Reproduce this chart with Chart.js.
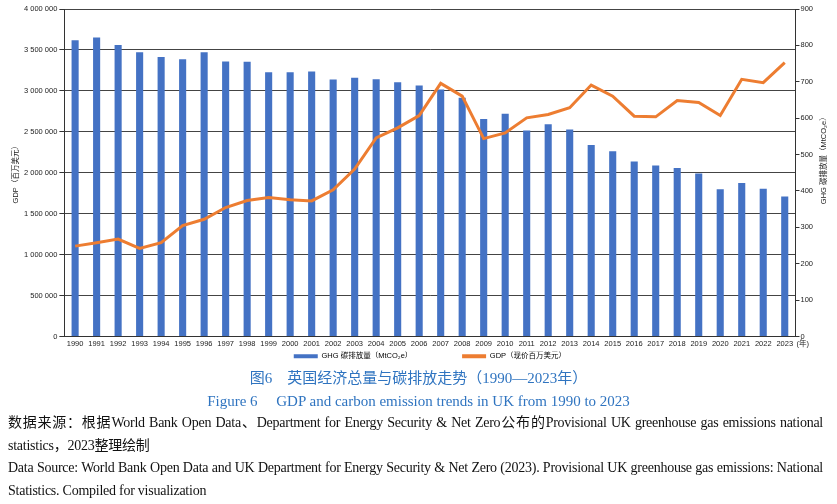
<!DOCTYPE html>
<html>
<head>
<meta charset="utf-8">
<script src="https://cdn.jsdelivr.net/npm/chart.js@4.4.0/dist/chart.umd.min.js"></script>
<style>
  body { margin: 0; background: #fff; width: 837px; height: 504px; overflow: hidden; }
  #wrap { position: relative; width: 837px; height: 370px; }
  .cap { font-family: "Liberation Serif", "Noto Sans CJK SC", serif; color: #2f74c0; text-align: center; font-size: 15px; }
  #cap1 { position: absolute; top: 366px; left: 0; width: 837px; }
  #cap2 { position: absolute; top: 389px; left: 0; width: 837px; }
  .src { position: absolute; left: 8px; width: 815px; font-family: "Liberation Serif", "Noto Sans CJK SC", serif;
         font-size: 14px; line-height: 22.5px; color: #111; text-align: justify; letter-spacing: -0.25px; }
  #src1 { top: 412px; }
  #src2 { top: 457px; }
</style>
</head>
<body>
<div id="wrap"><canvas id="chart"></canvas></div>
<div id="cap1" class="cap">图6　英国经济总量与碳排放走势（1990—2023年）</div>
<div id="cap2" class="cap">Figure 6　 GDP and carbon emission trends in UK from 1990 to 2023</div>
<div id="src1" class="src">数据来源：根据World Bank Open Data、Department for Energy Security &amp; Net Zero公布的Provisional UK greenhouse gas emissions national statistics，2023整理绘制</div>
<div id="src2" class="src">Data Source: World Bank Open Data and UK Department for Energy Security &amp; Net Zero (2023). Provisional UK greenhouse gas emissions: National Statistics. Compiled for visualization</div>
<script>
const years = ['1990','1991','1992','1993','1994','1995','1996','1997','1998','1999','2000','2001',
  '2002','2003','2004','2005','2006','2007','2008','2009','2010','2011','2012','2013','2014','2015',
  '2016','2017','2018','2019','2020','2021','2022','2023'];

// GHG emissions, MtCO2e (right axis)
const ghg = [814, 822, 801, 781, 768, 762, 781, 756, 755, 726, 726, 728,
  706, 711, 707, 699, 690, 679, 656, 598, 612, 566, 583, 569, 526, 509,
  481, 470, 463, 448, 405, 422, 406, 385];

// GDP, current US$ millions (left axis)
const gdp = [1104000, 1145000, 1190000, 1076000, 1145000, 1354000, 1432000, 1575000, 1660000, 1697000, 1669000, 1656000,
  1791000, 2045000, 2426000, 2548000, 2699000, 3092000, 2936000, 2417000, 2487000, 2671000, 2712000, 2794000, 3071000, 2936000,
  2691000, 2683000, 2883000, 2859000, 2699000, 3141000, 3100000, 3346000];

const ghgTitle = 'GHG 碳排放量（MtCO₂e）';
const fmtSpace = v => String(v).replace(/\B(?=(\d{3})+(?!\d))/g, ' ');
const FONT = '"Liberation Sans", "Noto Sans CJK SC", sans-serif';

// "(年)" after the last year, and the right axis title reading bottom-to-top
const extras = {
  id: 'extras',
  afterDraw(chart) {
    const x = chart.scales.x;
    const y1 = chart.scales.y1;
    const ctx = chart.ctx;
    ctx.save();
    ctx.font = '7.5px ' + FONT;
    ctx.fillStyle = '#222';
    ctx.textAlign = 'left';
    ctx.textBaseline = 'top';
    ctx.fillText('(年)', x.right + 1, x.top + 4);

    ctx.translate(y1.right - 7, (y1.top + y1.bottom) / 2 - 14);
    ctx.rotate(-Math.PI / 2);
    ctx.textAlign = 'center';
    ctx.textBaseline = 'middle';
    ctx.fillText(ghgTitle, 0, 0);
    ctx.restore();
  }
};

Chart.defaults.font.family = FONT;
Chart.defaults.font.size = 7.5;
Chart.defaults.color = '#222';

new Chart(document.getElementById('chart'), {
  data: {
    labels: years,
    datasets: [
      {
        type: 'line',
        label: 'GDP（现价百万美元）',
        data: gdp,
        yAxisID: 'y',
        borderColor: '#ED7D31',
        backgroundColor: '#ED7D31',
        borderWidth: 3,
        pointRadius: 0,
        tension: 0,
        order: 0
      },
      {
        type: 'bar',
        label: ghgTitle,
        data: ghg,
        yAxisID: 'y1',
        backgroundColor: '#4472C4',
        barPercentage: 0.33,
        categoryPercentage: 1,
        order: 1
      }
    ]
  },
  options: {
    responsive: true,
    maintainAspectRatio: false,
    animation: false,
    layout: { padding: { top: 9, right: 6, left: 9, bottom: 0 } },
    plugins: {
      legend: {
        position: 'bottom',
        fullSize: false,
        labels: {
          boxWidth: 24,
          boxHeight: 4,
          padding: 1,
          font: { size: 7.5 },
          generateLabels(chart) {
            // bar first, then line; trailing ideographic spaces widen the gap between items
            return [1, 0].map(i => {
              const ds = chart.data.datasets[i];
              return {
                text: i === 1 ? ds.label + '\u3000\u3000\u3000\u3000\u3000\u3000\u3000' : ds.label,
                fillStyle: ds.type === 'bar' ? ds.backgroundColor : ds.borderColor,
                strokeStyle: 'transparent',
                lineWidth: 0,
                datasetIndex: i
              };
            });
          }
        }
      },
      tooltip: { enabled: false }
    },
    scales: {
      x: {
        grid: { display: false, drawTicks: false },
        border: { color: '#333', width: 1 },
        ticks: { maxRotation: 0, autoSkip: false, padding: 3 }
      },
      y: {
        position: 'left',
        min: 0,
        max: 4000000,
        ticks: { stepSize: 500000, callback: v => fmtSpace(v), padding: 2 },
        grid: { color: '#444', tickLength: 5, tickColor: '#333' },
        border: { color: '#333' },
        title: { display: true, text: 'GDP（百万美元）', font: { size: 7.5 }, padding: 2 }
      },
      y1: {
        position: 'right',
        min: 0,
        max: 900,
        ticks: { stepSize: 100, padding: 1 },
        grid: { drawOnChartArea: false, tickLength: 4, tickColor: '#333' },
        border: { color: '#333' },
        title: { display: true, text: ghgTitle, color: 'rgba(0,0,0,0)', font: { size: 7.5 }, padding: 4 }
      }
    }
  },
  plugins: [extras]
});
</script>
</body>
</html>
